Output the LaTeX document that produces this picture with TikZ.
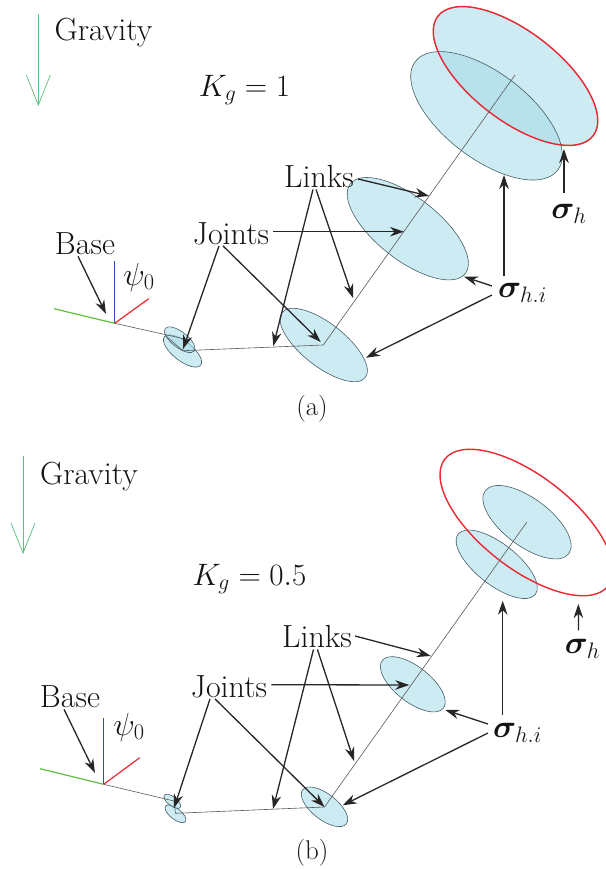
\documentclass[tikz,border=0pt]{standalone}
\usepackage{fix-cm}
\usepackage{bm}
\usetikzlibrary{arrows.meta}
\definecolor{linkfill}{RGB}{166,219,232}
\definecolor{linkedge}{RGB}{70,95,105}
\definecolor{gravitygreen}{RGB}{95,190,130}
\definecolor{basegreen}{RGB}{95,190,60}
\definecolor{baseblue}{RGB}{50,80,170}
\definecolor{basered}{RGB}{235,40,50}
\tikzset{
    label/.style={font=\fontsize{32}{38}\selectfont,inner sep=1pt,text=black!92},
    gain/.style={font=\fontsize{31}{37}\selectfont,inner sep=1pt,text=black!92},
    caption/.style={font=\fontsize{27}{32}\selectfont,inner sep=1pt,text=black!90},
    link/.style={draw=linkedge,line width=0.6pt,fill=linkfill,fill opacity=0.56},
    hand/.style={draw=basered,line width=1.4pt},
    chain/.style={draw=black!65,line width=0.6pt},
    pointer/.style={draw=black!85,line width=1.3pt,-{Stealth[length=14pt,width=9.5pt]}},
    gravity/.style={draw=gravitygreen,line width=0.7pt,-{Straight Barb[length=30pt,width=24pt]}}
}
\begin{document}
\begin{tikzpicture}[x=1pt,y=-1pt]
            \useasboundingbox (0,0) rectangle (605,869);

            \draw [link] [rotate around={-37.6:(515.5,76)}] (515.5,76) ellipse [x radius=98,y radius=44.5];
            \draw [link] [rotate around={-37.4:(486.5,115.8)}] (486.5,115.8) ellipse [x radius=89.6,y radius=42.9];
            \draw [link] [rotate around={-38:(407.8,228.7)}] (407.8,228.7) ellipse [x radius=72.9,y radius=31.3];
            \draw [link] [rotate around={-38:(323.7,345)}] (323.7,345) ellipse [x radius=52.8,y radius=21.6];
            \draw [link] [rotate around={-38:(182.5,351)}] (182.5,351) ellipse [x radius=23,y radius=9.7];
            \draw [link] [rotate around={-38:(179.7,339.7)}] (179.7,339.7) ellipse [x radius=18.4,y radius=7.8];
            \draw [hand] [rotate around={-37.6:(515.5,76)}] (515.5,76) ellipse [x radius=98,y radius=44.5];

            \coordinate (baseA) at (114.7,323.3);
            \coordinate (greenA) at (54,308.7);
            \coordinate (blueA) at (114.7,260.7);
            \coordinate (redA) at (148.7,298.7);
            \coordinate (jointAa) at (185,339);
            \coordinate (jointAb) at (182.7,350.7);
            \coordinate (jointAc) at (165.7,335.7);
            \coordinate (jointAd) at (323.3,345);
            \coordinate (jointAe) at (515,75);
            \draw [chain] (baseA) -- (jointAa) -- (jointAb) -- (jointAc);
            \draw [chain] (jointAb) -- (jointAd) -- (jointAe);
            \draw [basegreen,line width=1.2pt] (baseA) -- (greenA);
            \draw [baseblue,line width=1.2pt] (baseA) -- (blueA);
            \draw [basered,line width=1.2pt] (baseA) -- (redA);

            \coordinate (gravityAa) at (38.3,14);
            \coordinate (gravityAb) at (38.3,106);
            \draw [gravity] (gravityAa) -- (gravityAb);

            \node (gravityA) [label] at (103.5,33) {Gravity};
            \node (gainA) [gain] at (244.5,90) {$K_g=1$};
            \node (linksA) [label] at (319,177) {Links};
            \node (jointsA) [label] at (231,233.5) {Joints};
            \node (baseLabelA) [label] at (85,244) {Base};
            \node (psiA) [label] at (139,277) {$\psi_0$};
            \node (handA) [label] at (569,214) {$\bm{\sigma}_h$};
            \node (handiA) [label] at (522.5,293) {$\bm{\sigma}_{h.i}$};
            \node (captionA) [caption] at (312,409) {(a)};

            \coordinate (tipBaseA) at (106,314);
            \coordinate (tipJointAa) at (183,349);
            \coordinate (tipJointAb) at (320.7,342);
            \coordinate (tipJointAc) at (404,231.7);
            \coordinate (tipLinkAa) at (429,196);
            \coordinate (tipLinkAb) at (273.3,346);
            \coordinate (tipLinkAc) at (353,298);
            \coordinate (tipHandAa) at (504,175);
            \coordinate (tipHandAb) at (464,276.7);
            \coordinate (tipHandAc) at (366,357.7);
            \coordinate (tipHandAd) at (564,149);
            \draw [pointer] ([xshift=-7pt]baseLabelA.south) -- (tipBaseA);
            \draw [pointer] ([xshift=-12pt]jointsA.south) -- (tipJointAa);
            \draw [pointer] ([xshift=-8pt]jointsA.south) -- (tipJointAb);
            \draw [pointer] ([xshift=3pt,yshift=1.8pt]jointsA.east) -- (tipJointAc);
            \draw [pointer] ([xshift=3pt,yshift=-2pt]linksA.east) -- (tipLinkAa);
            \draw [pointer] ([xshift=-6pt]linksA.south) -- (tipLinkAb);
            \draw [pointer] ([xshift=-3pt]linksA.south) -- (tipLinkAc);
            \draw [pointer] ([xshift=-18.5pt,yshift=6pt]handiA.north) -- (tipHandAa);
            \draw [pointer] ([xshift=-5pt,yshift=7pt]handiA.west) -- (tipHandAb);
            \draw [pointer] ([xshift=-5pt,yshift=-2pt]handiA.west) -- (tipHandAc);
            \draw [pointer] ([xshift=-5pt,yshift=10pt]handA.north) -- (tipHandAd);

            \draw [link] [rotate around={-37:(527,522.2)}] (527,522.2) ellipse [x radius=52.3,y radius=23.7];
            \draw [link] [rotate around={-38:(496.7,564.3)}] (496.7,564.3) ellipse [x radius=49,y radius=20.6];
            \draw [link] [rotate around={-38:(412.8,684.3)}] (412.8,684.3) ellipse [x radius=38.8,y radius=17.7];
            \draw [link] [rotate around={-38:(324.5,806.8)}] (324.5,806.8) ellipse [x radius=27.7,y radius=12.8];
            \draw [link] [rotate around={-38:(175.5,813.8)}] (175.5,813.8) ellipse [x radius=12.6,y radius=5.5];
            \draw [link] [rotate around={-38:(172.3,801.3)}] (172.3,801.3) ellipse [x radius=10,y radius=4.5];
            \draw [hand] [rotate around={-37.8:(526.5,522.5)}] (526.5,522.5) ellipse [x radius=103.4,y radius=46.4];

            \coordinate (baseB) at (103.7,784.3);
            \coordinate (greenB) at (40,768.7);
            \coordinate (blueB) at (103.7,717.7);
            \coordinate (redB) at (139.7,757.7);
            \coordinate (jointBa) at (174,801);
            \coordinate (jointBb) at (175.5,813.3);
            \coordinate (jointBc) at (324.5,807);
            \coordinate (jointBd) at (526.7,522.3);
            \draw [chain] (baseB) -- (jointBa) -- (jointBb) -- (jointBc) -- (jointBd);
            \draw [basegreen,line width=1.2pt] (baseB) -- (greenB);
            \draw [baseblue,line width=1.2pt] (baseB) -- (blueB);
            \draw [basered,line width=1.2pt] (baseB) -- (redB);

            \coordinate (gravityBa) at (23,456);
            \coordinate (gravityBb) at (23,554);
            \draw [gravity] (gravityBa) -- (gravityBb);

            \node (gravityB) [label] at (89,476.5) {Gravity};
            \node (gainB) [gain] at (249.5,579) {$K_g=0.5$};
            \node (linksB) [label] at (317,637) {Links};
            \node (jointsB) [label] at (229,686.5) {Joints};
            \node (baseLabelB) [label] at (70,697) {Base};
            \node (psiB) [label] at (129,727) {$\psi_0$};
            \node (handB) [label] at (582.5,649) {$\bm{\sigma}_h$};
            \node (handiB) [label] at (517.5,733) {$\bm{\sigma}_{h.i}$};
            \node (captionB) [caption] at (312,853) {(b)};

            \coordinate (tipBaseB) at (95,773);
            \coordinate (tipJointBa) at (174,808);
            \coordinate (tipJointBb) at (324.5,807);
            \coordinate (tipJointBc) at (409.3,685);
            \coordinate (tipLinkBa) at (430.7,656);
            \coordinate (tipLinkBb) at (273,809);
            \coordinate (tipLinkBc) at (354,761);
            \coordinate (tipHandBa) at (502.7,600.7);
            \coordinate (tipHandBb) at (445.3,710);
            \coordinate (tipHandBc) at (342.7,805.3);
            \coordinate (tipHandBd) at (578.3,604);
            \draw [pointer] ([xshift=-6pt]baseLabelB.south) -- (tipBaseB);
            \draw [pointer] ([xshift=-19pt]jointsB.south) -- (tipJointBa);
            \draw [pointer] ([xshift=-14pt]jointsB.south) -- (tipJointBb);
            \draw [pointer] ([xshift=3pt,yshift=1.8pt]jointsB.east) -- (tipJointBc);
            \draw [pointer] ([xshift=2pt,yshift=1pt]linksB.east) -- (tipLinkBa);
            \draw [pointer] ([xshift=-3.5pt]linksB.south) -- (tipLinkBb);
            \draw [pointer] ([xshift=0.4pt]linksB.south) -- (tipLinkBc);
            \draw [pointer] ([xshift=-14.8pt,yshift=7pt]handiB.north) -- (tipHandBa);
            \draw [pointer] ([xshift=-4pt,yshift=9pt]handiB.west) -- (tipHandBb);
            \draw [pointer] ([xshift=-4pt]handiB.west) -- (tipHandBc);
            \draw [pointer] ([xshift=-4pt,yshift=8pt]handB.north) -- (tipHandBd);
        \end{tikzpicture}
\end{document}
